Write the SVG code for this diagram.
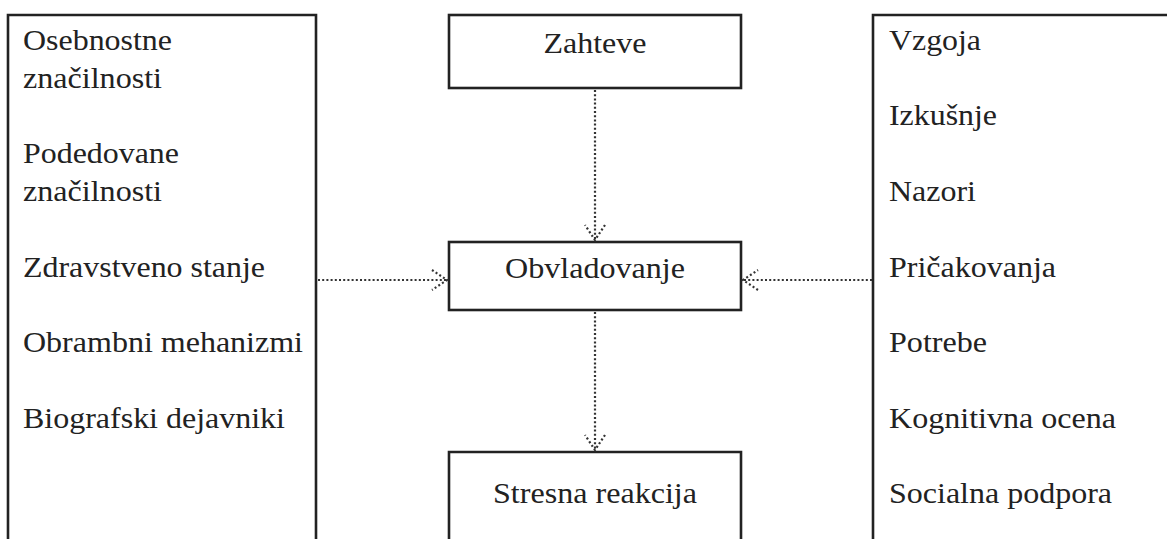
<svg xmlns="http://www.w3.org/2000/svg" width="1167" height="539" viewBox="0 0 1167 539">
<style>
.box{fill:none;stroke:#222;stroke-width:2.6}
.t{font-family:'Liberation Serif','Times New Roman','DejaVu Serif',serif;font-size:30px;fill:#222}
.c{text-anchor:middle}
.conn{fill:none;stroke:#333;stroke-width:2.2;stroke-dasharray:2 2.2}
.head{fill:none;stroke:#333;stroke-width:2.2;stroke-dasharray:2 2.4}
</style>
<defs>
<marker id="arr" markerUnits="userSpaceOnUse" viewBox="-18 -12 20 24" markerWidth="20" markerHeight="24" refX="0" refY="0" orient="auto">
<path class="head" d="M-15,-10 L0,0 L-15,10"/>
</marker>
</defs>
<rect width="1167" height="539" fill="#fff"/>
<g id="left">
<path class="box" d="M8,545 V15 H316 V545"/>
<text class="t" x="23" y="50" textLength="149" lengthAdjust="spacingAndGlyphs">Osebnostne</text>
<text class="t" x="23" y="88" textLength="139" lengthAdjust="spacingAndGlyphs">značilnosti</text>
<text class="t" x="23" y="163" textLength="156" lengthAdjust="spacingAndGlyphs">Podedovane</text>
<text class="t" x="23" y="201" textLength="139" lengthAdjust="spacingAndGlyphs">značilnosti</text>
<text class="t" x="23" y="277" textLength="242" lengthAdjust="spacingAndGlyphs">Zdravstveno stanje</text>
<text class="t" x="23" y="352" textLength="280" lengthAdjust="spacingAndGlyphs">Obrambni mehanizmi</text>
<text class="t" x="23" y="428" textLength="262" lengthAdjust="spacingAndGlyphs">Biografski dejavniki</text>
</g>
<g id="right">
<path class="box" d="M873,545 V15 H1170"/>
<text class="t" x="889" y="50" textLength="92" lengthAdjust="spacingAndGlyphs">Vzgoja</text>
<text class="t" x="889" y="125" textLength="108" lengthAdjust="spacingAndGlyphs">Izkušnje</text>
<text class="t" x="889" y="201" textLength="87" lengthAdjust="spacingAndGlyphs">Nazori</text>
<text class="t" x="889" y="277" textLength="167" lengthAdjust="spacingAndGlyphs">Pričakovanja</text>
<text class="t" x="889" y="352" textLength="98" lengthAdjust="spacingAndGlyphs">Potrebe</text>
<text class="t" x="889" y="428" textLength="227" lengthAdjust="spacingAndGlyphs">Kognitivna ocena</text>
<text class="t" x="889" y="503" textLength="223" lengthAdjust="spacingAndGlyphs">Socialna podpora</text>
</g>
<g id="zahteve">
<rect class="box" x="449" y="15" width="292" height="73"/>
<text class="t c" x="595" y="53" textLength="103" lengthAdjust="spacingAndGlyphs">Zahteve</text>
</g>
<g id="obvladovanje">
<rect class="box" x="449" y="242" width="292" height="68"/>
<text class="t c" x="595" y="278" textLength="180" lengthAdjust="spacingAndGlyphs">Obvladovanje</text>
</g>
<g id="stresna">
<path class="box" d="M449,545 V452 H741 V545"/>
<text class="t c" x="595" y="503" textLength="204" lengthAdjust="spacingAndGlyphs">Stresna reakcija</text>
</g>
<g id="connectors">
<path class="conn" d="M595,90 V240" marker-end="url(#arr)"/>
<path class="conn" d="M595,312 V450" marker-end="url(#arr)"/>
<path class="conn" d="M318,280 H447" marker-end="url(#arr)"/>
<path class="conn" d="M872,280 H743" marker-end="url(#arr)"/>
</g>
</svg>
